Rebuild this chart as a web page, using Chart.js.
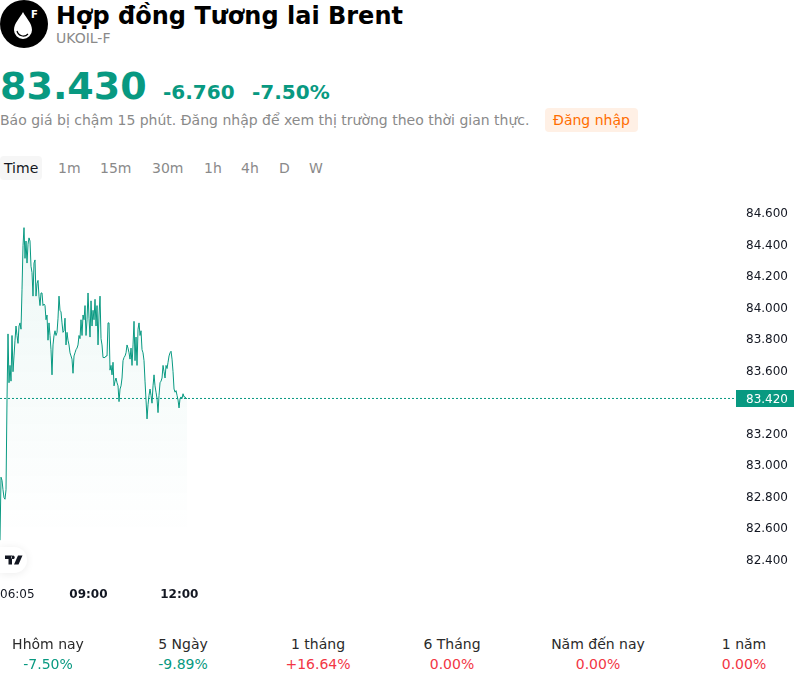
<!DOCTYPE html>
<html lang="vi"><head><meta charset="utf-8">
<script src="https://cdn.jsdelivr.net/npm/chart.js@4"></script>
<style>
html,body{margin:0;padding:0;background:#fff;width:800px;height:684px;overflow:hidden;font-family:"DejaVu Sans",sans-serif}
.t{position:absolute;white-space:nowrap;line-height:1}
#logo{position:absolute;left:0;top:0}
#tv{position:absolute;left:0;top:547px;width:27px;height:26px;background:#fff;border-radius:0 13px 13px 0;box-shadow:0 1px 8px rgba(0,0,0,.08)}
#tab{position:absolute;left:0;top:156px;width:42px;height:24px;background:#f6f6f6;border-radius:4px}
#login{position:absolute;left:545px;top:108px;width:93px;height:24px;background:#fff0e5;border-radius:4px;color:#ff6d00;font-size:14px;line-height:24px;text-align:center}
canvas{position:absolute;left:0;top:196px}
</style></head><body>
<svg id="logo" width="48" height="48" viewBox="0 0 48 48">
<circle cx="24" cy="24" r="24" fill="#000"/>
<path d="M23 12 C20 18 14 23 14 30 a9 9 0 0 0 18 0 C32 23 26 18 23 12Z" fill="#fff"/>
<path d="M17 31 a6.5 6.5 0 0 0 11 3" fill="none" stroke="#000" stroke-width="1.2"/>
<text x="31" y="18" fill="#fff" font-family="DejaVu Sans" font-weight="700" font-size="10">F</text>
</svg>
<div class="t" style="left:56px;top:4px;font-size:24px;font-weight:700;color:#000">Hợp đồng Tương lai Brent</div>
<div class="t" style="left:56px;top:31px;font-size:14px;color:#8a8a8a">UKOIL-F</div>
<div class="t" style="left:0;top:67px;font-size:38px;font-weight:700;color:#089981">83.430</div>
<div class="t" style="left:163px;top:82px;font-size:20px;font-weight:700;color:#089981">-6.760</div>
<div class="t" style="left:252px;top:82px;font-size:20px;font-weight:700;color:#089981">-7.50%</div>
<div class="t" style="left:0;top:113px;font-size:14px;color:#8a8a8a">Báo giá bị chậm 15 phút. Đăng nhập để xem thị trường theo thời gian thực.</div>
<div id="login">Đăng nhập</div>
<div id="tab"></div>
<canvas id="c" width="794" height="409" style="width:794px;height:409px"></canvas>
<div id="tv"><svg width="18" height="10" viewBox="0 0 36 20" style="position:absolute;left:5px;top:8px"><path d="M0 1h14v18H7V8H0Z M16 1a3.5 3.5 0 1 0 0.01 0Z M26 1h9l-8 18h-9Z" fill="#131722"/></svg></div>
<script>
const tabNames = ["Time","1m","15m","30m","1h","4h","D","W"];
const tabLefts = [4,58,100,152,204,241,279,309];
const statLabels = ["Hhôm nay","5 Ngày","1 tháng","6 Tháng","Năm đến nay","1 năm"];
const statValues = ["-7.50%","-9.89%","+16.64%","0.00%","0.00%","0.00%"];
const statColors = ["#089981","#089981","#f23645","#f23645","#f23645","#f23645"];
const statCenters = [48,183,318,452,598,744];
const yTicks = [84.6,84.4,84.2,84.0,83.8,83.6,83.2,83.0,82.8,82.6,82.4];
const xTickMinutes = [0,175,355,1457];
const xTickLabels = ["06:05","09:00","12:00",""];
const currentPrice = 83.42;
const prices = [82.52,82.92,82.90,82.84,82.79,82.78,82.84,83.41,83.83,83.52,83.63,83.53,83.82,83.59,83.69,83.79,83.88,83.82,83.77,83.88,83.90,83.86,84.11,84.39,84.505,84.31,84.42,84.28,84.40,84.44,84.42,84.26,84.22,84.07,84.28,84.30,84.07,84.15,84.17,84.07,84.01,84.09,84.09,84.01,84.02,84.01,83.92,83.95,83.79,83.90,83.82,83.73,83.57,83.76,83.82,83.85,83.82,83.84,83.93,84.07,83.98,83.97,83.90,83.84,83.85,83.93,83.76,83.84,83.79,83.76,83.71,83.69,83.67,83.58,83.69,83.71,83.73,83.74,83.76,83.82,83.80,83.92,83.82,83.95,83.92,84.01,83.82,83.92,84.09,83.93,83.81,84.04,83.88,83.98,83.92,84.05,83.88,84.01,83.76,83.95,84.07,83.80,83.76,83.68,83.68,83.68,83.69,83.69,83.90,83.90,83.60,83.63,83.57,83.65,83.50,83.53,83.55,83.52,83.50,83.40,83.48,83.50,83.55,83.66,83.68,83.69,83.71,83.76,83.74,83.71,83.67,83.74,83.63,83.76,83.91,83.66,83.81,83.63,83.86,83.90,83.82,83.85,83.73,83.71,83.66,83.53,83.41,83.29,83.38,83.44,83.48,83.44,83.39,83.50,83.57,83.50,83.46,83.42,83.33,83.44,83.52,83.53,83.55,83.63,83.59,83.55,83.63,83.61,83.65,83.69,83.71,83.72,83.67,83.59,83.48,83.46,83.47,83.44,83.41,83.36,83.42,83.43,83.42,83.45,83.43,83.43,83.42,83.42];

function addText(text,css){const d=document.createElement('div');d.className='t';d.textContent=text;d.style.cssText=css;document.body.appendChild(d);}
tabNames.forEach((n,i)=>addText(n,`left:${tabLefts[i]}px;top:161px;font-size:14px;color:${i===0?'#131722':'#8a8a8a'}`));
statLabels.forEach((n,i)=>{
  const l=`left:${statCenters[i]}px;transform:translateX(-50%);font-size:14px;`;
  addText(n,l+'top:637px;color:#2a2a2a');
  addText(statValues[i],l+`top:657px;color:${statColors[i]}`);
});

const green='#089981';
const badge={id:'badge',afterDraw(ch){
  const c=ch.ctx,y=ch.scales.y.getPixelForValue(currentPrice),l=ch.chartArea.right;
  c.save();c.fillStyle=green;c.fillRect(l,Math.round(y)-8,58,17);
  c.fillStyle='#fff';c.font='12px "DejaVu Sans"';c.textBaseline='middle';c.textAlign='left';
  c.fillText(currentPrice.toFixed(3),l+10,y+1);c.restore();
}};
new Chart(document.getElementById('c'),{
  type:'line',
  data:{datasets:[
    {data:prices.map((p,i)=>({x:i*1.98,y:p})),borderColor:green,borderWidth:1,pointRadius:0,tension:0,fill:'start',
     backgroundColor(ctx){const a=ctx.chart.chartArea;if(!a)return 'transparent';
       const g=ctx.chart.ctx.createLinearGradient(0,a.top+30,0,a.top+340);
       g.addColorStop(0,'rgba(8,153,129,0.07)');g.addColorStop(1,'rgba(8,153,129,0)');return g;}},
    {data:[{x:0,y:currentPrice},{x:1457,y:currentPrice}],borderColor:green,borderWidth:1,borderDash:[2,2],pointRadius:0,fill:false}
  ]},
  options:{
    responsive:false,animation:false,
    layout:{padding:0},
    plugins:{legend:{display:false},tooltip:{enabled:false}},
    scales:{
      x:{type:'linear',min:0,max:1457,grid:{display:false},border:{display:false},
        afterBuildTicks(s){s.ticks=xTickMinutes.map(v=>({value:v}));},
        afterFit(s){s.height=25;s.paddingLeft=0;s.paddingRight=0;},
        ticks:{autoSkip:false,maxRotation:0,align:'inner',padding:0,color:'#131722',
          font(ctx){return {family:'DejaVu Sans',size:12,weight:ctx.index===0?'normal':'bold'};},
          callback(v){return xTickLabels[xTickMinutes.indexOf(v)];}}},
      y:{position:'right',min:82.267,max:84.706,grid:{display:false},border:{display:false},
        afterBuildTicks(s){s.ticks=yTicks.map(v=>({value:v}));},
        afterFit(s){s.width=58;s.paddingTop=0;s.paddingBottom=0;},
        ticks:{autoSkip:false,padding:2,labelOffset:1.5,color:'#131722',font:{family:'DejaVu Sans',size:12},
          callback(v){return v.toFixed(3);}}}
    }
  },
  plugins:[badge]
});
</script>
</body></html>
